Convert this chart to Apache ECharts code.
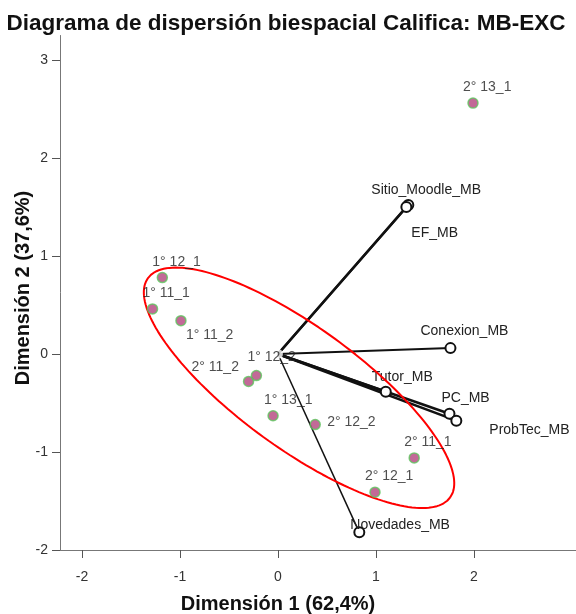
<!DOCTYPE html>
<html>
<head>
<meta charset="utf-8">
<script src="https://cdn.jsdelivr.net/npm/echarts@6/dist/echarts.min.js"></script>
<style>
  html, body { margin: 0; padding: 0; background: #fff; }
  #chart { width: 576px; height: 614px; }
</style>
</head>
<body>
<div id="chart"></div>
<script>
// Row points (profiles)
var rowNames = ['2° 13_1', '1° 12_1', '1° 11_1', '1° 11_2', '2° 11_2', '1° 12_2', '1° 13_1', '2° 12_2', '2° 11_1', '2° 12_1'];
var rowDim1  = [1.99, -1.18, -1.28, -0.99, -0.30, -0.22, -0.05, 0.38, 1.39, 0.99];
var rowDim2  = [2.56, 0.78, 0.46, 0.34, -0.28, -0.22, -0.63, -0.72, -1.06, -1.41];

// Column points (variables), drawn as vectors from the origin
var colNames = ['Sitio_Moodle_MB', 'EF_MB', 'Conexion_MB', 'Tutor_MB', 'PC_MB', 'ProbTec_MB', 'Novedades_MB'];
var colDim1  = [1.33, 1.31, 1.76, 1.10, 1.75, 1.82, 0.83];
var colDim2  = [1.52, 1.50, 0.06, -0.385, -0.61, -0.68, -1.82];

// Concentration ellipse: centre, semi-axes and rotation (degrees)
var ellipseCenter = [0.215, -0.345];
var ellipseAxes = [1.905, 0.62];
var ellipseAngle = -36.0;

// Axis ticks
var xTicks = [-2, -1, 0, 1, 2];
var yTicks = [-2, -1, 0, 1, 2, 3];

// Label placement (pixels: left edge and vertical centre relative to the point)
var rowLabelOffsets = [[-10, -16], [-10, -15], [-10, -16], [5, 14], [-57, -14], [-9, -18], [-9, -16], [12, -2], [-10, -16], [-10, -16]];
var colLabelOffsets = [[-37, -15], [5, 26], [-30, -17], [-14, -15], [-8, -16], [33, 10], [-9, -7]];
var colLineWidths = [2.5, 2.5, 2, 2.5, 2.5, 2.5, 1.5];

var FONT = '"Liberation Sans", Arial, sans-serif';

// outline of the ellipse, sampled along its parametric form
var ellipsePts = [];
(function () {
  var phi = ellipseAngle * Math.PI / 180;
  var n = 180;
  for (var i = 0; i <= n; i++) {
    var t = 2 * Math.PI * i / n;
    var ex = ellipseAxes[0] * Math.cos(t), ey = ellipseAxes[1] * Math.sin(t);
    ellipsePts.push([
      ellipseCenter[0] + ex * Math.cos(phi) - ey * Math.sin(phi),
      ellipseCenter[1] + ex * Math.sin(phi) + ey * Math.cos(phi)
    ]);
  }
})();

var series = [];

// vectors
colNames.forEach(function (nm, i) {
  series.push({
    type: 'line',
    name: nm,
    z: 3,
    silent: true,
    animation: false,
    lineStyle: { color: '#111', width: colLineWidths[i] },
    symbol: 'emptyCircle',
    symbolSize: 10,
    itemStyle: { color: '#111', borderColor: '#111', borderWidth: 1.5 },
    data: [
      { value: [0, 0], symbol: 'none' },
      {
        value: [colDim1[i], colDim2[i]],
        label: {
          show: true,
          formatter: nm,
          position: 'inside',
          align: 'left',
          verticalAlign: 'middle',
          offset: colLabelOffsets[i],
          color: '#222',
          fontSize: 14,
          fontFamily: FONT
        }
      }
    ]
  });
});

// origin marker
series.push({
  type: 'scatter',
  z: 4,
  silent: true,
  animation: false,
  symbol: 'emptyCircle',
  symbolSize: 10,
  itemStyle: { color: 'transparent', borderColor: '#111', borderWidth: 2 },
  data: [[0, 0]]
});

// ellipse
series.push({
  type: 'line',
  z: 5,
  silent: true,
  animation: false,
  symbol: 'none',
  smooth: false,
  lineStyle: { color: '#f00', width: 2 },
  data: ellipsePts
});

// row points
series.push({
  type: 'scatter',
  z: 6,
  animation: false,
  symbol: 'circle',
  symbolSize: 10,
  itemStyle: { color: '#b3437d', borderColor: '#5ec45e', borderWidth: 1.5 },
  data: rowNames.map(function (nm, i) {
    return {
      name: nm,
      value: [rowDim1[i], rowDim2[i]],
      label: {
        show: true,
        formatter: nm,
        position: 'inside',
        align: 'left',
        verticalAlign: 'middle',
        offset: rowLabelOffsets[i],
        color: '#222',
        fontSize: 14,
        fontFamily: FONT
      }
    };
  })
});

var chart = echarts.init(document.getElementById('chart'), null, { renderer: 'canvas' });
chart.setOption({
  backgroundColor: '#fff',
  animation: false,
  textStyle: { fontFamily: FONT },
  grid: { left: 60, right: 0, top: 35.5, bottom: 64, containLabel: false, outerBoundsMode: 'none' },
  xAxis: {
    type: 'value',
    min: -2.224,
    max: 3.041,
    splitLine: { show: false },
    axisLine: { show: true, onZero: false, lineStyle: { color: '#777', width: 1 } },
    axisTick: { show: true, length: 8, customValues: xTicks, lineStyle: { color: '#555' } },
    axisLabel: { customValues: xTicks, margin: 20, color: '#333', fontSize: 14, fontFamily: FONT }
  },
  yAxis: {
    type: 'value',
    min: -2,
    max: 3.25,
    splitLine: { show: false },
    axisLine: { show: true, onZero: false, lineStyle: { color: '#777', width: 1 } },
    axisTick: { show: true, length: 8, customValues: yTicks, lineStyle: { color: '#555' } },
    axisLabel: { customValues: yTicks, margin: 12, color: '#333', fontSize: 14, fontFamily: FONT }
  },
  graphic: [
    {
      type: 'text', x: 286, y: 24,
      style: { text: 'Diagrama de dispersión biespacial Califica: MB-EXC', fill: '#111', font: 'bold 22.5px ' + FONT, align: 'center', verticalAlign: 'middle' }
    },
    {
      type: 'text', x: 278, y: 604,
      style: { text: 'Dimensión 1 (62,4%)', fill: '#111', font: 'bold 20px ' + FONT, align: 'center', verticalAlign: 'middle' }
    },
    {
      type: 'text', x: 23, y: 288, rotation: Math.PI / 2,
      style: { text: 'Dimensión 2 (37,6%)', fill: '#111', font: 'bold 20px ' + FONT, align: 'center', verticalAlign: 'middle' }
    }
  ],
  series: series
});
</script>
</body>
</html>
